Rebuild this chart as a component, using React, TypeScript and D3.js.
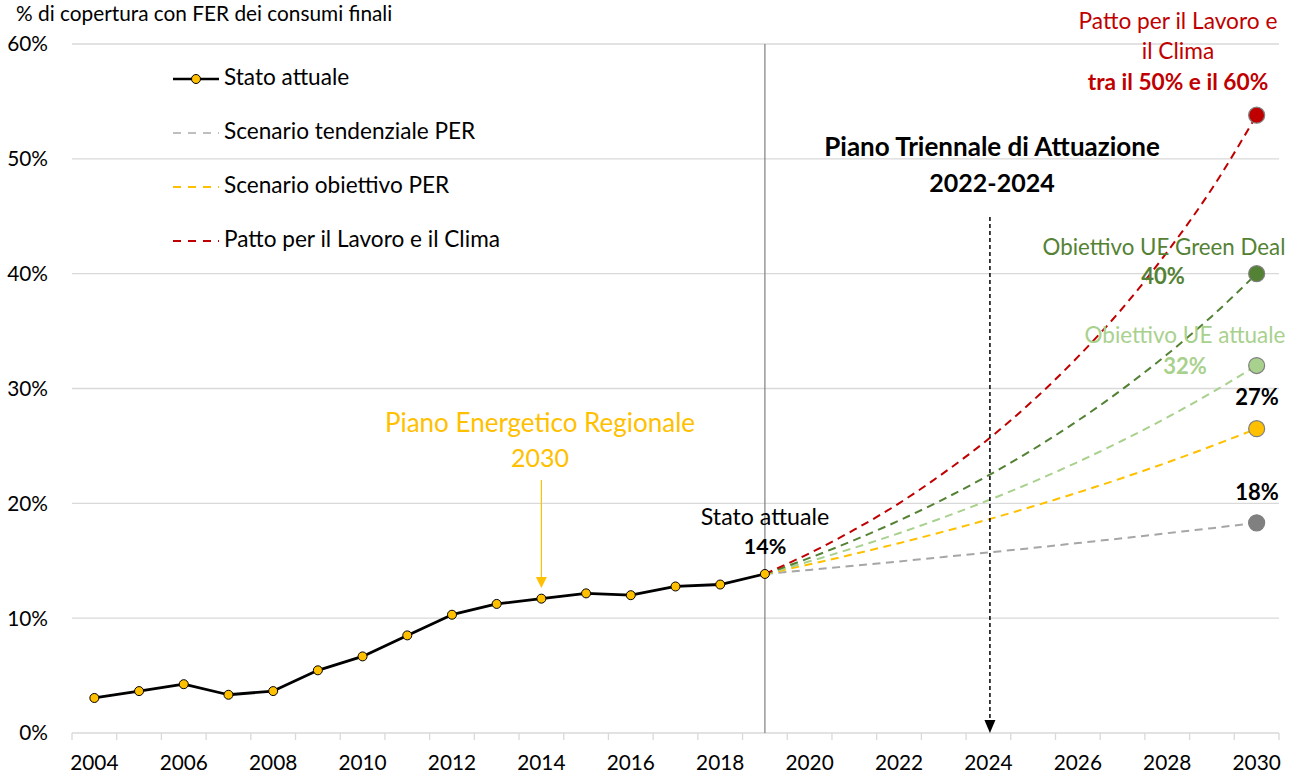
import React from 'react';
import * as d3 from 'd3';

const categories = ['2004','2005','2006','2007','2008','2009','2010','2011','2012','2013','2014','2015','2016','2017','2018','2019','2020','2021','2022','2023','2024','2025','2026','2027','2028','2029','2030'];
const xTickLabels = ['2004','2006','2008','2010','2012','2014','2016','2018','2020','2022','2024','2026','2028','2030'];
const yTickValues = [0, 10, 20, 30, 40, 50, 60];

const historicalYears = ['2004','2005','2006','2007','2008','2009','2010','2011','2012','2013','2014','2015','2016','2017','2018','2019'];
const statoAttuale = [3.05, 3.65, 4.25, 3.33, 3.65, 5.46, 6.67, 8.5, 10.3, 11.24, 11.7, 12.16, 12.0, 12.76, 12.93, 13.85];

const projectionYears = ['2019','2020','2021','2022','2023','2024','2025','2026','2027','2028','2029','2030'];
const scenarioTendenziale = [13.85, 14.2, 14.57, 14.94, 15.33, 15.72, 16.12, 16.54, 16.96, 17.4, 17.84, 18.3];
const scenarioObiettivo = [13.85, 14.69, 15.59, 16.53, 17.54, 18.6, 19.74, 20.94, 22.21, 23.56, 24.99, 26.5];
const obiettivoUEAttuale = [13.85, 14.95, 16.13, 17.4, 18.78, 20.27, 21.87, 23.6, 25.47, 27.48, 29.66, 32.0];
const obiettivoGreenDeal = [13.85, 15.25, 16.8, 18.5, 20.37, 22.43, 24.7, 27.2, 29.95, 32.98, 36.3, 40.0];
const pattoLavoroClima = [13.85, 15.66, 17.7, 20.0, 22.65, 25.6, 28.96, 32.75, 37.0, 41.9, 47.4, 53.8];

const FONT = 'Lato, "Open Sans", sans-serif';
const GREY = '#a6a6a6';
const YELLOW = '#ffc000';
const LIGHTGREEN = '#a9d18e';
const DARKGREEN = '#548235';
const RED = '#c00000';

const projections = [
  { name: 'tendenziale', values: scenarioTendenziale, color: GREY, marker: '#808080' },
  { name: 'obiettivo', values: scenarioObiettivo, color: YELLOW, marker: YELLOW },
  { name: 'ueAttuale', values: obiettivoUEAttuale, color: LIGHTGREEN, marker: LIGHTGREEN },
  { name: 'greenDeal', values: obiettivoGreenDeal, color: DARKGREEN, marker: DARKGREEN },
  { name: 'patto', values: pattoLavoroClima, color: RED, marker: RED },
];

export default function App() {
  const W = 1297, H = 774;
  const x = d3.scaleBand<string>().domain(categories).range([72, 1279]).paddingInner(0).paddingOuter(0);
  const y = d3.scaleLinear().domain([0, 60]).range([733, 44]);
  const xc = (c: string) => (x(c) as number) + x.bandwidth() / 2;

  const lineHist = d3.line<number>().x((_, i) => xc(historicalYears[i])).y((d) => y(d));
  const lineProj = d3.line<number>().x((_, i) => xc(projectionYears[i])).y((d) => y(d)).curve(d3.curveMonotoneX);

  const boundaries = categories.map((c) => x(c) as number).concat([x.range()[1]]);
  const x2019 = xc('2019');
  const x2024 = xc('2024') + 1.5;
  const x2030 = xc('2030');
  const x2014 = xc('2014');

  return (
    <svg width={W} height={H} style={{ position: 'absolute', left: 0, top: 0, background: '#fff' }} fontFamily={FONT}>
      <rect x={0} y={0} width={W} height={H} fill="#fff" />
      {/* title */}
      <text x={16} y={21} fontSize={20.8} fill="#000">% di copertura con FER dei consumi finali</text>

      {/* gridlines */}
      {yTickValues.map((v) => (
        <line key={'g' + v} x1={72} x2={1279} y1={y(v)} y2={y(v)} stroke="#d9d9d9" strokeWidth={1.3} />
      ))}
      {/* ticks on x axis */}
      {boundaries.map((b, i) => (
        <line key={'t' + i} x1={b} x2={b} y1={y(0)} y2={y(0) + 7} stroke="#d9d9d9" strokeWidth={1.3} />
      ))}
      {/* y labels */}
      {yTickValues.map((v) => (
        <text key={'yl' + v} x={48} y={y(v)} dy="0.36em" textAnchor="end" fontSize={20.8} fill="#000">{v + '%'}</text>
      ))}
      {/* x labels */}
      {xTickLabels.map((c) => (
        <text key={'xl' + c} x={xc(c)} y={770} textAnchor="middle" fontSize={20.8} fill="#000">{c}</text>
      ))}

      {/* vertical line at current state */}
      <line x1={x2019} x2={x2019} y1={y(60)} y2={y(0)} stroke="#7f7f7f" strokeWidth={1.2} />

      {/* projections */}
      {projections.map((p) => (
        <path key={p.name} d={lineProj(p.values) || ''} fill="none" stroke={p.color} strokeWidth={2} strokeDasharray="8,5.5" />
      ))}
      {projections.map((p) => (
        <circle key={'m' + p.name} cx={x2030} cy={y(p.values[p.values.length - 1])} r={8} fill={p.marker} stroke="#7f7f7f" strokeWidth={1.2} />
      ))}

      {/* historical */}
      <path d={lineHist(statoAttuale) || ''} fill="none" stroke="#000" strokeWidth={2.8} strokeLinejoin="round" />
      {statoAttuale.map((v, i) => (
        <circle key={'h' + i} cx={xc(historicalYears[i])} cy={y(v)} r={4.5} fill={YELLOW} stroke="#000" strokeWidth={1} />
      ))}

      {/* dashed arrow 2024 */}
      <line x1={x2024} x2={x2024} y1={217} y2={722} stroke="#000" strokeWidth={1.5} strokeDasharray="4,3" />
      <path d={`M${x2024 - 5.5},${720} L${x2024 + 5.5},${720} L${x2024},${733} Z`} fill="#000" />

      {/* PER arrow */}
      <line x1={x2014} x2={x2014} y1={480} y2={578} stroke={YELLOW} strokeWidth={1.2} />
      <path d={`M${x2014 - 5.5},${577} L${x2014 + 5.5},${577} L${x2014},${588} Z`} fill={YELLOW} />

      {/* legend */}
      <line x1={173} x2={219} y1={79} y2={79} stroke="#000" strokeWidth={2.6} />
      <circle cx={196} cy={79} r={4.5} fill={YELLOW} stroke="#000" strokeWidth={1} />
      <text x={224} y={85} fontSize={22.6} fill="#000">Stato attuale</text>
      <line x1={173} x2={219} y1={133} y2={133} stroke={'#bfbfbf'} strokeWidth={2} strokeDasharray="8,7" />
      <text x={224} y={139} fontSize={22.6} fill="#000">Scenario tendenziale PER</text>
      <line x1={173} x2={219} y1={187} y2={187} stroke={YELLOW} strokeWidth={2} strokeDasharray="8,7" />
      <text x={224} y={193} fontSize={22.6} fill="#000">Scenario obiettivo PER</text>
      <line x1={173} x2={219} y1={241} y2={241} stroke={RED} strokeWidth={2} strokeDasharray="8,7" />
      <text x={224} y={247} fontSize={22.6} fill="#000">Patto per il Lavoro e il Clima</text>

      {/* annotations */}
      <text x={992} y={156} textAnchor="middle" fontSize={26} fontWeight="bold" fill="#000">Piano Triennale di Attuazione</text>
      <text x={992} y={192} textAnchor="middle" fontSize={25} fontWeight="bold" fill="#000">2022-2024</text>

      <text x={540} y={432} textAnchor="middle" fontSize={26} fill={YELLOW}>Piano Energetico Regionale</text>
      <text x={540} y={467} textAnchor="middle" fontSize={25} fill={YELLOW}>2030</text>

      <text x={765} y={525} textAnchor="middle" fontSize={23.2} fill="#000">Stato attuale</text>
      <text x={765} y={554} textAnchor="middle" fontSize={21.5} fontWeight="bold" fill="#000">14%</text>

      <text x={1178} y={29} textAnchor="middle" fontSize={22.7} fill={RED}>Patto per il Lavoro e</text>
      <text x={1178} y={59} textAnchor="middle" fontSize={22.7} fill={RED}>il Clima</text>
      <text x={1178} y={90} textAnchor="middle" fontSize={22.7} fontWeight="bold" fill={RED}>tra il 50% e il 60%</text>

      <text x={1164} y={255} textAnchor="middle" fontSize={22.3} fill={DARKGREEN}>Obiettivo UE Green Deal</text>
      <text x={1163} y={284} textAnchor="middle" fontSize={22} fontWeight="bold" fill={DARKGREEN}>40%</text>

      <text x={1185} y={343} textAnchor="middle" fontSize={22.5} fill={LIGHTGREEN}>Obiettivo UE attuale</text>
      <text x={1185} y={374} textAnchor="middle" fontSize={22} fontWeight="bold" fill={LIGHTGREEN}>32%</text>

      <text x={1257} y={405} textAnchor="middle" fontSize={22} fontWeight="bold" fill="#000">27%</text>
      <text x={1257} y={500} textAnchor="middle" fontSize={22} fontWeight="bold" fill="#000">18%</text>
    </svg>
  );
}
